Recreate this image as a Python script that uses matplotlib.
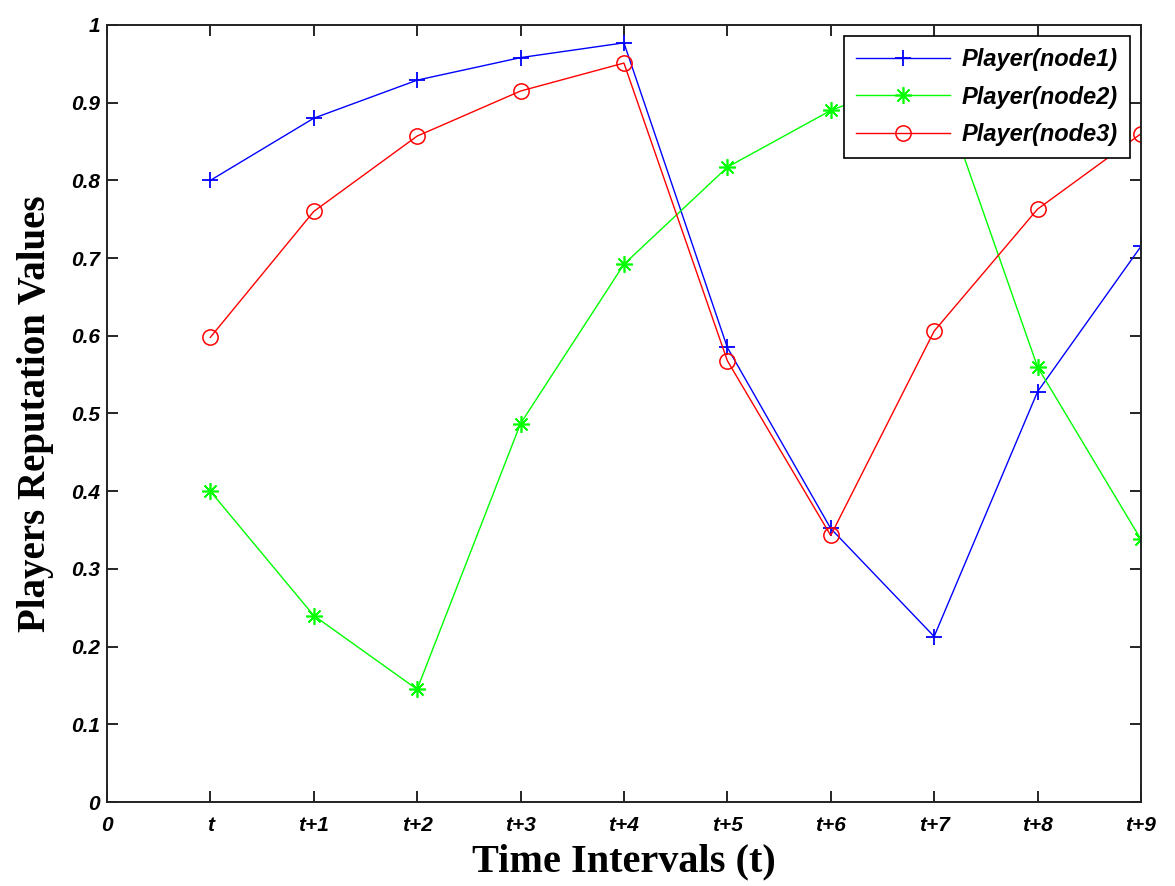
import numpy as np
import matplotlib.pyplot as plt

x_labels = ["0", "t", "t+1", "t+2", "t+3", "t+4", "t+5", "t+6", "t+7", "t+8", "t+9"]
y_labels = ["0", "0.1", "0.2", "0.3", "0.4", "0.5", "0.6", "0.7", "0.8", "0.9", "1"]
steps = [1, 2, 3, 4, 5, 6, 7, 8, 9, 10]

node1 = [0.800, 0.880, 0.929, 0.958, 0.977, 0.585, 0.352, 0.213, 0.528, 0.715]
node2 = [0.400, 0.240, 0.145, 0.487, 0.692, 0.817, 0.890, 0.940, 0.560, 0.338]
node3 = [0.598, 0.760, 0.857, 0.915, 0.951, 0.568, 0.343, 0.606, 0.763, 0.860]

fig = plt.figure(figsize=(11.75, 8.86), dpi=100)
ax = fig.add_axes([0.091, 0.0948, 0.880, 0.877])

ax.plot(steps, node1, color="blue", marker="+", markersize=12, markeredgewidth=1.3,
        linewidth=1.0, label="Player(node1)")
ax.plot(steps, node2, color="#00ff00", marker=(8, 2, 0), markersize=12, markeredgewidth=1.2,
        linewidth=1.0, label="Player(node2)")
ax.plot(steps, node3, color="red", marker="o", markersize=11, markerfacecolor="none",
        markeredgewidth=1.1, linewidth=1.0, label="Player(node3)")

ax.set_xlim(0, 10)
ax.set_ylim(0, 1)
ax.set_xticks(range(11))
ax.set_xticklabels(x_labels)
ax.set_yticks(np.arange(0, 1.01, 0.1))
ax.set_yticklabels(y_labels)

for lab in ax.get_xticklabels() + ax.get_yticklabels():
    lab.set_fontfamily("Liberation Sans")
    lab.set_fontstyle("italic")
    lab.set_fontweight("bold")
    lab.set_fontsize(15)

ax.tick_params(direction="in", length=8, width=1.2, top=True, right=True)
ax.tick_params(axis="x", pad=10)
ax.tick_params(axis="y", pad=5)
for sp in ax.spines.values():
    sp.set_linewidth(1.4)
    sp.set_color("#222222")

ax.set_xlabel("Time Intervals (t)", family="Liberation Serif", weight="bold", size=29, labelpad=6)
ax.set_ylabel("Players Reputation Values", family="Liberation Serif", weight="bold", size=28, labelpad=12)

leg = ax.legend(loc="upper right", prop=dict(family="Liberation Sans", style="italic", weight="bold", size=17),
                fancybox=False, framealpha=1, edgecolor="black", borderpad=0.5,
                handlelength=4.0, handletextpad=0.5, labelspacing=0.62, borderaxespad=0.47)
leg.get_frame().set_linewidth(1.2)

fig.savefig("out.png", dpi=100)
